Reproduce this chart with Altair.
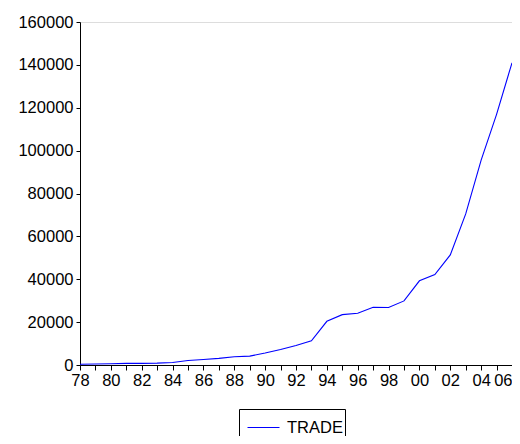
import altair as alt
import pandas as pd

years = list(range(1978, 2007))
trade = [355, 455, 570, 735, 771, 860, 1201, 2067, 2580, 3084, 3822, 4156,
         5560, 7226, 9120, 11271, 20382, 23500, 24134, 26967, 26850, 29896,
         39273, 42184, 51378, 70484, 95539, 116922, 140971]
series = ["TRADE"] * len(years)
y_ticks = list(range(0, 160001, 20000))

df = pd.DataFrame({"year": years, "value": trade, "series": series})

chart = alt.Chart(df).mark_line(strokeWidth=1.1).encode(
    x=alt.X("year:Q", scale=alt.Scale(domain=[1978, 2006], nice=False, zero=False),
            axis=alt.Axis(values=years, title=None, grid=False, tickSize=5,
                          labelExpr="datum.value % 2 == 0 ? substring(toString(datum.value), 2, 4) : ''",
                          labelOverlap=False, labelFlush=False,
                          labelAlign=alt.condition("datum.value == 2006", alt.value("right"), alt.value("center")),
                          labelFontSize=16.5, labelPadding=2,
                          labelFont="Liberation Sans", labelColor="black",
                          domainColor="black", tickColor="black")),
    y=alt.Y("value:Q", scale=alt.Scale(domain=[0, 160000], nice=False),
            axis=alt.Axis(values=y_ticks, format="d", title=None, grid=False, tickSize=4,
                          labelFontSize=16.5, labelFont="Liberation Sans", labelColor="black",
                          labelPadding=3, domainColor="black", tickColor="black")),
    color=alt.Color("series:N", scale=alt.Scale(range=["#0000ff"]),
                    legend=alt.Legend(title=None, orient="none", legendX=159, legendY=387,
                                      symbolType="stroke", symbolSize=1024, symbolStrokeWidth=1,
                                      symbolOffset=6, strokeColor="black", padding=2,
                                      labelFontSize=16.5, labelFont="Liberation Sans",
                                      labelColor="black", labelOffset=7)),
).properties(
    width=432, height=343,
    autosize=alt.AutoSizeParams(type="none"),
    padding={"left": 72, "top": 14, "right": 0, "bottom": 71},
).configure_view(stroke="black", strokeWidth=1).configure(background="white")

chart.save("out.html", embed_options={"renderer": "svg", "actions": False})
